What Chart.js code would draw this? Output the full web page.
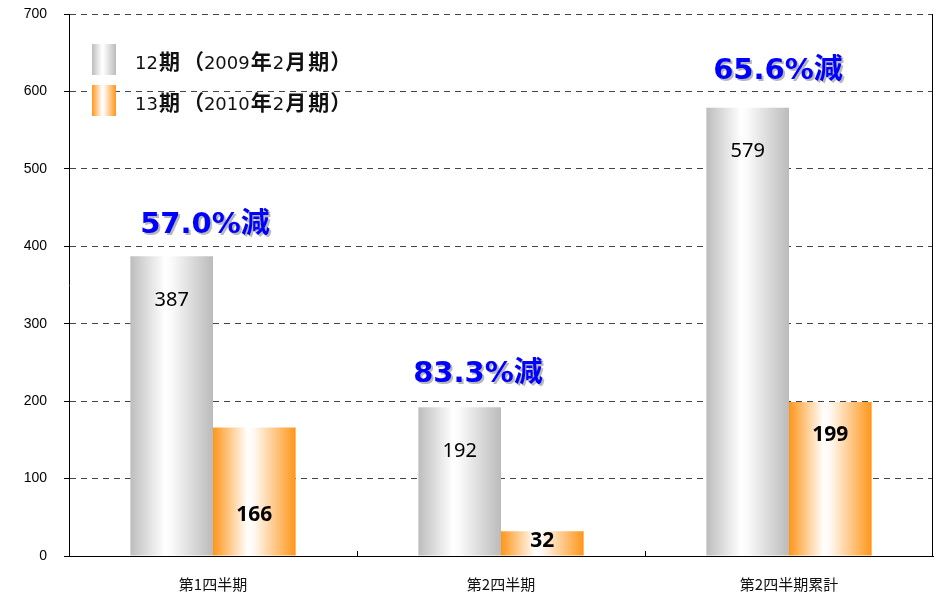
<!DOCTYPE html>
<html>
<head>
<meta charset="utf-8">
<script src="https://cdn.jsdelivr.net/npm/chart.js@4.4.1/dist/chart.umd.min.js"></script>
<style>
  html, body { margin: 0; padding: 0; background: #fff; }
  #wrap { width: 934px; height: 605px; position: relative; }
</style>
</head>
<body>
<div id="wrap"><canvas id="bar"></canvas></div>
<script>
const categories = ['第1四半期', '第2四半期', '第2四半期累計'];
const seriesNames = ['12期（2009年2月期）', '13期（2010年2月期）'];
const values2009 = [387, 192, 579];
const values2010 = [166, 32, 199];
const reductionLabels = ['57.0%減', '83.3%減', '65.6%減'];

const CAT_PCT = 0.574;
const JP = '"Noto Sans CJK JP", "Noto Sans", sans-serif';

// horizontal gradient for each bar, built from the scale positions
function barGradient(ctx, stops) {
  const chart = ctx.chart;
  const x = chart.scales.x;
  if (!x || !chart.chartArea) return stops[0][1];
  const cat = x.width / categories.length;
  const bw = cat * CAT_PCT / 2;
  const c = x.getPixelForValue(ctx.dataIndex) + (ctx.datasetIndex === 0 ? -bw / 2 : bw / 2);
  const g = chart.ctx.createLinearGradient(c - bw / 2, 0, c + bw / 2, 0);
  stops.forEach(s => g.addColorStop(s[0], s[1]));
  return g;
}
const grayStops = [[0, '#bdbdbd'], [0.42, '#ffffff'], [0.5, '#fafafa'], [1, '#bbbbbb']];
const orangeStops = [[0, '#ff961a'], [0.42, '#ffffff'], [0.5, '#fff8f2'], [1, '#ff961a']];

// positions of text relative to the bars (pixels)
const grayLabelDrop = [44, 44, 44];
const orangeLabelDrop = [88, 10, 33];
const redDx = [-8, -23, -11];
const redDy = [-34, -36, -40];

// ascii runs in one font, CJK chars in another at a full-width advance
function mixedText(ctx, text, x, y, asciiFont, cjkFont, cjkAdvance, draw) {
  const runs = text.match(/[\x00-\x7f]+|[^\x00-\x7f]+/g) || [];
  let cx = x;
  runs.forEach(r => {
    if (/^[\x00-\x7f]/.test(r)) {
      ctx.font = asciiFont;
      if (draw) ctx.fillText(r, cx, y);
      cx += ctx.measureText(r).width;
    } else {
      ctx.font = cjkFont;
      for (const ch of r) {
        const m = ctx.measureText(ch).width;
        const adv = Math.max(m, cjkAdvance);
        const shift = ch === '（' ? adv - m : (ch === '）' ? 0 : (adv - m) / 2);
        if (draw) ctx.fillText(ch, cx + shift, y);
        cx += adv;
      }
    }
  });
  return cx - x;
}

const decorations = {
  id: 'decorations',
  afterDatasetsDraw(chart) {
    const { ctx, chartArea: a, scales: { x, y } } = chart;
    ctx.save();
    // right frame line
    ctx.strokeStyle = '#000';
    ctx.lineWidth = 1;
    ctx.beginPath();
    ctx.moveTo(Math.round(a.right) - 0.5, a.top);
    ctx.lineTo(Math.round(a.right) - 0.5, a.bottom);
    ctx.stroke();
    // inward category ticks
    const cat = x.width / categories.length;
    for (let i = 1; i < categories.length; i++) {
      const px = Math.round(a.left + cat * i) + 0.5;
      ctx.beginPath();
      ctx.moveTo(px, a.bottom);
      ctx.lineTo(px, a.bottom - 5);
      ctx.stroke();
    }
    // bar value labels
    const bw = cat * CAT_PCT / 2;
    ctx.fillStyle = '#000';
    categories.forEach((c, i) => {
      const cx = x.getPixelForValue(i);
      ctx.textAlign = 'center';
      ctx.textBaseline = 'middle';
      ctx.font = '20px "Noto Sans", sans-serif';
      ctx.fillText(String(values2009[i]), cx - bw / 2, y.getPixelForValue(values2009[i]) + grayLabelDrop[i]);
      ctx.font = 'bold 21px "Noto Sans", sans-serif';
      ctx.fillText(String(values2010[i]), cx + bw / 2, y.getPixelForValue(values2010[i]) + orangeLabelDrop[i]);
      // reduction note
      const af = 'bold 29px "DejaVu Sans", sans-serif';
      const jf = 'bold 29px ' + JP;
      ctx.textAlign = 'left';
      ctx.textBaseline = 'alphabetic';
      const w = mixedText(ctx, reductionLabels[i], 0, 0, af, jf, 29, false);
      const tx = cx + redDx[i] - w / 2;
      const ty = y.getPixelForValue(values2009[i]) + redDy[i] + 11;
      ctx.fillStyle = '#b8b8b8';
      mixedText(ctx, reductionLabels[i], tx + 2, ty + 2, af, jf, 29, true);
      ctx.fillStyle = '#0000ff';
      mixedText(ctx, reductionLabels[i], tx, ty, af, jf, 29, true);
      ctx.fillStyle = '#000';
    });
    // legend
    const lx = a.left + 23;
    const rows = [a.top + 30, a.top + 71];
    ctx.textAlign = 'left';
    ctx.textBaseline = 'alphabetic';
    chart.data.datasets.forEach((ds, i) => {
      const top = rows[i];
      const g = ctx.createLinearGradient(lx, 0, lx + 24, 0);
      (i === 0 ? grayStops : orangeStops).forEach(s => g.addColorStop(s[0], s[1]));
      ctx.fillStyle = g;
      ctx.fillRect(lx, top, 24, 31);
      ctx.fillStyle = '#111';
      mixedText(ctx, ds.label, lx + 43, top + 25, '18px "DejaVu Sans", sans-serif', 'bold 21px ' + JP, 23, true);
    });
    ctx.restore();
  }
};

new Chart(document.getElementById('bar'), {
  type: 'bar',
  data: {
    labels: categories,
    datasets: [
      {
        label: seriesNames[0],
        data: values2009,
        backgroundColor: c => barGradient(c, grayStops),
        borderWidth: 0
      },
      {
        label: seriesNames[1],
        data: values2010,
        backgroundColor: c => barGradient(c, orangeStops),
        borderWidth: 0
      }
    ]
  },
  options: {
    responsive: true,
    maintainAspectRatio: false,
    animation: false,
    layout: { padding: { top: 14, right: 1, left: 0, bottom: 0 } },
    datasets: { bar: { categoryPercentage: CAT_PCT, barPercentage: 1 } },
    plugins: {
      legend: { display: false },
      tooltip: { enabled: false }
    },
    scales: {
      x: {
        grid: { display: false },
        border: { display: true, color: '#000', width: 1 },
        ticks: { color: '#111', padding: 11, font: { family: JP, size: 15 } },
        afterFit: s => { s.height = 49; }
      },
      y: {
        min: 0,
        max: 700,
        ticks: { stepSize: 100, padding: 17, color: '#000', font: { family: '"Liberation Sans", Arial, sans-serif', size: 14 } },
        grid: { color: '#444', tickLength: 5, tickColor: '#000', tickBorderDash: [] },
        border: { display: true, color: '#000', width: 1, dash: [6, 5] },
        afterFit: s => { s.width = 69; s.paddingTop = 0; s.paddingBottom = 0; }
      }
    }
  },
  plugins: [decorations]
});
</script>
</body>
</html>
